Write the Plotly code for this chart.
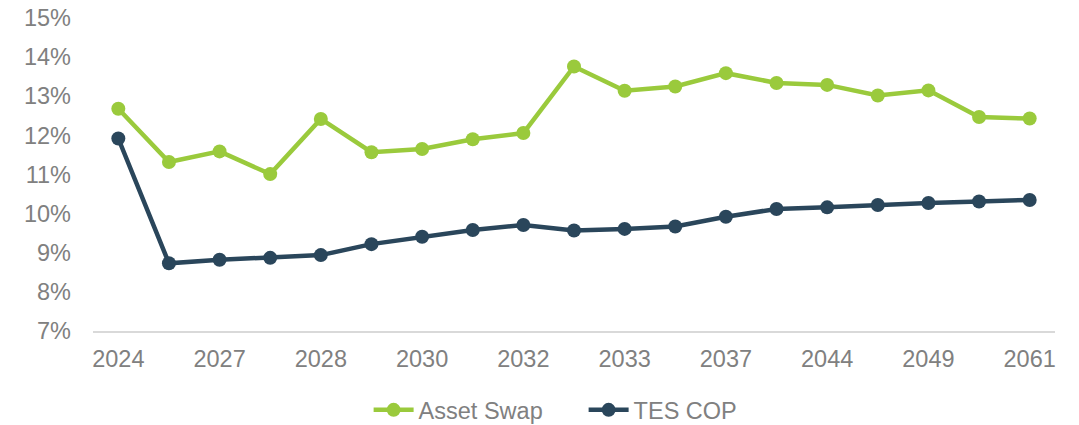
import plotly.graph_objects as go

categories = ["2024", "2026", "2027", "2027", "2028", "2029", "2030", "2031", "2032", "2033",
              "2033", "2034", "2037", "2042", "2044", "2046", "2049", "2050", "2061"]
asset_swap = [12.68, 11.32, 11.59, 11.01, 12.42, 11.57, 11.65, 11.90, 12.06, 13.76,
              13.14, 13.25, 13.59, 13.34, 13.29, 13.02, 13.15, 12.47, 12.43]
tes_cop = [11.92, 8.73, 8.82, 8.87, 8.94, 9.22, 9.41, 9.58, 9.71, 9.57,
           9.61, 9.67, 9.92, 10.12, 10.16, 10.22, 10.27, 10.31, 10.35]
y_ticks = [7, 8, 9, 10, 11, 12, 13, 14, 15]

GREEN = "#9ACA3C"
NAVY = "#2A465B"
GREY = "#808080"
FONT = "Liberation Sans, Arial, sans-serif"
FS = 23.5

x = list(range(len(categories)))

fig = go.Figure()
fig.add_trace(go.Scatter(x=x, y=asset_swap, name="Asset Swap", mode="lines+markers",
                         line=dict(color=GREEN, width=4.5),
                         marker=dict(color=GREEN, size=14)))
fig.add_trace(go.Scatter(x=x, y=tes_cop, name="TES COP", mode="lines+markers",
                         line=dict(color=NAVY, width=4.5),
                         marker=dict(color=NAVY, size=14)))

# page body has an 8px default margin, so the figure is offset by 8px
fig.update_layout(
    width=1071, height=425,
    margin=dict(l=85, r=24, t=10, b=102),
    plot_bgcolor="white", paper_bgcolor="white",
    font=dict(family=FONT, size=FS, color=GREY),
    showlegend=True,
    legend=dict(orientation="h", x=0.51, xanchor="center",
                yref="container", y=0.054, yanchor="middle",
                font=dict(family=FONT, size=FS, color=GREY), itemwidth=40,
                entrywidth=160, bgcolor="rgba(0,0,0,0)"),
)
fig.update_xaxes(range=[-0.5, len(categories) - 0.5], tickmode="array",
                 tickvals=x[::2], ticktext=categories[::2],
                 showgrid=False, zeroline=False, showline=True, linecolor="#D9D9D9",
                 linewidth=1.5, ticks="", ticklabelstandoff=6, automargin=False,
                 ticklabeloverflow="allow",
                 tickfont=dict(family=FONT, size=FS, color=GREY))
fig.update_yaxes(range=[7, 15], tickmode="array", tickvals=y_ticks,
                 ticktext=[f"{v}%" for v in y_ticks],
                 showgrid=False, zeroline=False, showline=False, ticks="",
                 ticklabelstandoff=21, automargin=False, ticklabeloverflow="allow",
                 tickfont=dict(family=FONT, size=FS, color=GREY))

fig.write_html("out.html")
